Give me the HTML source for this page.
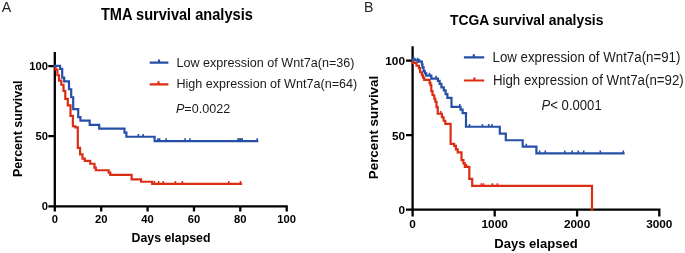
<!DOCTYPE html>
<html><head><meta charset="utf-8"><title>Survival analysis</title>
<style>
html,body{margin:0;padding:0;background:#fff;}
body{width:685px;height:253px;overflow:hidden;font-family:"Liberation Sans",sans-serif;}
svg{display:block;will-change:transform;}
</style></head><body>
<svg width="685" height="253" viewBox="0 0 685 253"><g stroke="#000" stroke-width="2.3" fill="none" stroke-linecap="butt"><path d="M54.8,52 V211.5 M48.3,66.1 H54.8 M48.3,136.2 H54.8 M48.3,206.3 H287.8 M101.2,206.3 V211.5 M147.6,206.3 V211.5 M194,206.3 V211.5 M240.3,206.3 V211.5 M286.7,206.3 V211.5"/><path d="M412.6,46.2 V216.5 M406,60.6 H412.6 M406,135.1 H412.6 M406,209.6 H660.5 M494.7,209.6 V216.5 M577.1,209.6 V216.5 M659.3,209.6 V216.5"/></g><path d="M54.8,66.1 H55.6 V69.5 H57.4 V75.25 H59.0 V80.65 H61.3 V84.75 H63.5 V90.95 H65.3 V98.95 H67.8 V105.45 H70.5 V115.95 H72.9 V126.25 H75.3 V127.45 H77.8 V147.95 H80.1 V154.45 H82.5 V158.55 H84.8 V160.95 H90.2 V163.75 H94.5 V167.55 H95.8 V170.25 H108.7 V172.55 H110.3 V174.95 H131.6 V179.35 H141.1 V181.75 H152.2 V183.85 H241" stroke="#db2c14" stroke-width="2.2" fill="none" stroke-linejoin="miter" stroke-linecap="square"/><path d="M154.4,183.85 V181.05 M158.7,183.85 V181.05 M163.2,183.85 V181.05 M175.4,183.85 V181.05 M182.4,183.85 V181.05 M228.8,183.85 V181.05 M240.5,183.85 V181.05 " stroke="#db2c14" stroke-width="1.6" fill="none"/><path d="M54.8,65.9 H60.1 V68.9 H62.2 V77.65 H64.2 V81.45 H69 V89.25 H71.2 V97.25 H73.2 V109.15 H78.2 V117.15 H80.4 V120.65 H89.7 V124.95 H99.2 V128.65 H124.5 V132.55 H126.4 V136.75 H154.6 V141.05 H257.2" stroke="#2650a8" stroke-width="2.2" fill="none" stroke-linejoin="miter" stroke-linecap="square"/><path d="M138.4,136.75 V133.95 M143.2,136.75 V133.95 M157.9,141.05 V138.25 M159.6,141.05 V138.25 M166.1,141.05 V138.25 M185,141.05 V138.25 M190,141.05 V138.25 M238.0,141.05 V138.25 M239.4,141.05 V138.25 M240.8,141.05 V138.25 M242.2,141.05 V138.25 M257.2,141.05 V138.25 " stroke="#2650a8" stroke-width="1.6" fill="none"/><path d="M412.6,60 H413 V62.9 H416.5 V65.75 H418.9 V68.05 H420.1 V72.25 H421.9 V75.25 H423 V77.55 H424.2 V79.95 H429.6 V82.95 H430.4 V85.15 H431.3 V91.05 H432.5 V95.25 H434.3 V98.75 H435.3 V101.75 H436.5 V107.15 H437.7 V113.75 H441.9 V117.25 H443.6 V120.75 H445.3 V123.95 H450.6 V143.95 H454.2 V145.95 H455.9 V149.35 H457.7 V152.45 H461.5 V160.05 H463.4 V163.45 H464.8 V166.85 H469.3 V178.85 H472.2 V185.95 H592 V209.6" stroke="#db2c14" stroke-width="2.2" fill="none" stroke-linejoin="miter" stroke-linecap="square"/><path d="M440.7,113.75 V110.95 M466.5,166.85 V164.05 M481.4,185.95 V183.15 M483.5,185.95 V183.15 M492.4,185.95 V183.15 M497.4,185.95 V183.15 " stroke="#db2c14" stroke-width="1.6" fill="none"/><path d="M412.6,59.3 H415.3 V60.5 H418 V61.7 H421.9 V64.45 H422.5 V67.45 H423.6 V71.05 H424.8 V73.45 H426.2 V75.65 H431.3 V78.65 H437.9 V80.95 H439.6 V83.95 H441.4 V87.45 H443.8 V90.45 H445.6 V94.05 H447.4 V97.85 H451.5 V106.85 H460.5 V109.55 H462.6 V113.05 H466 V126.75 H499.8 V133.65 H505.8 V140.25 H522.7 V146.55 H536.4 V153.35 H623.5" stroke="#2650a8" stroke-width="2.2" fill="none" stroke-linejoin="miter" stroke-linecap="square"/><path d="M413.6,59.3 V56.5 M417.7,60.5 V57.7 M419.5,61.7 V58.9 M429.6,75.65 V72.85 M436.1,78.65 V75.85 M459.8,106.85 V104.05 M469.5,126.75 V123.95 M482.4,126.75 V123.95 M488.7,126.75 V123.95 M491.9,126.75 V123.95 M526.3,146.55 V143.75 M539.6,153.35 V150.55 M545.3,153.35 V150.55 M564.8,153.35 V150.55 M572.2,153.35 V150.55 M578.2,153.35 V150.55 M583.7,153.35 V150.55 M600.3,153.35 V150.55 M623.3,153.35 V150.55 " stroke="#2650a8" stroke-width="1.6" fill="none"/><path d="M149.7,62.6 H168.4 M159,62.6 V59.4" stroke="#2650a8" stroke-width="2.2" fill="none"/><path d="M149.7,84.4 H168.4 M158.5,84.4 V81.3" stroke="#db2c14" stroke-width="2.2" fill="none"/><path d="M463.9,57.4 H484.2 M473.8,57.4 V54.3" stroke="#2650a8" stroke-width="2.2" fill="none"/><path d="M463.9,80.5 H484.2 M474.4,80.5 V77.4" stroke="#db2c14" stroke-width="2.2" fill="none"/><text x="1.8" y="11.9" font-size="14.2" font-weight="normal" text-anchor="start" fill="#231f20" font-family="Liberation Sans, sans-serif" >A</text><text x="364.0" y="11.9" font-size="14.2" font-weight="normal" text-anchor="start" fill="#231f20" font-family="Liberation Sans, sans-serif" >B</text><text transform="translate(100.9,19.7) scale(1,1.07)" x="0" y="0" font-size="14.6" font-weight="bold" text-anchor="start" fill="#000" font-family="Liberation Sans, sans-serif" >TMA survival analysis</text><text transform="translate(450.0,24.8) scale(1,1.06)" x="0" y="0" font-size="13.85" font-weight="bold" text-anchor="start" fill="#000" font-family="Liberation Sans, sans-serif" >TCGA survival analysis</text><text x="48.0" y="69.9" font-size="11.2" font-weight="bold" text-anchor="end" fill="#000" font-family="Liberation Sans, sans-serif" >100</text><text x="48.0" y="140.0" font-size="11.2" font-weight="bold" text-anchor="end" fill="#000" font-family="Liberation Sans, sans-serif" >50</text><text x="48.0" y="210.2" font-size="11.2" font-weight="bold" text-anchor="end" fill="#000" font-family="Liberation Sans, sans-serif" >0</text><text x="54.8" y="223.4" font-size="11.2" font-weight="bold" text-anchor="middle" fill="#000" font-family="Liberation Sans, sans-serif" >0</text><text x="101.2" y="223.4" font-size="11.2" font-weight="bold" text-anchor="middle" fill="#000" font-family="Liberation Sans, sans-serif" >20</text><text x="147.6" y="223.4" font-size="11.2" font-weight="bold" text-anchor="middle" fill="#000" font-family="Liberation Sans, sans-serif" >40</text><text x="194" y="223.4" font-size="11.2" font-weight="bold" text-anchor="middle" fill="#000" font-family="Liberation Sans, sans-serif" >60</text><text x="240.3" y="223.4" font-size="11.2" font-weight="bold" text-anchor="middle" fill="#000" font-family="Liberation Sans, sans-serif" >80</text><text x="286.7" y="223.4" font-size="11.2" font-weight="bold" text-anchor="middle" fill="#000" font-family="Liberation Sans, sans-serif" >100</text><text x="405.0" y="64.8" font-size="11.8" font-weight="bold" text-anchor="end" fill="#000" font-family="Liberation Sans, sans-serif" >100</text><text x="405.0" y="139.5" font-size="11.8" font-weight="bold" text-anchor="end" fill="#000" font-family="Liberation Sans, sans-serif" >50</text><text x="405.0" y="214.2" font-size="11.8" font-weight="bold" text-anchor="end" fill="#000" font-family="Liberation Sans, sans-serif" >0</text><text x="412.5" y="228.0" font-size="11.8" font-weight="bold" text-anchor="middle" fill="#000" font-family="Liberation Sans, sans-serif" >0</text><text x="494.7" y="228.0" font-size="11.8" font-weight="bold" text-anchor="middle" fill="#000" font-family="Liberation Sans, sans-serif" >1000</text><text x="577.1" y="228.0" font-size="11.8" font-weight="bold" text-anchor="middle" fill="#000" font-family="Liberation Sans, sans-serif" >2000</text><text x="659.3" y="228.0" font-size="11.8" font-weight="bold" text-anchor="middle" fill="#000" font-family="Liberation Sans, sans-serif" >3000</text><text x="171.0" y="241.8" font-size="12.35" font-weight="bold" text-anchor="middle" fill="#000" font-family="Liberation Sans, sans-serif" >Days elapsed</text><text x="536.0" y="247.6" font-size="13.05" font-weight="bold" text-anchor="middle" fill="#000" font-family="Liberation Sans, sans-serif" >Days elapsed</text><text transform="translate(21.6,128.7) rotate(-90)" x="0" y="0" font-size="12.5" font-weight="bold" text-anchor="middle" fill="#000" font-family="Liberation Sans, sans-serif">Percent survival</text><text transform="translate(377.8,127.5) rotate(-90)" x="0" y="0" font-size="13.4" font-weight="bold" text-anchor="middle" fill="#000" font-family="Liberation Sans, sans-serif">Percent survival</text><text transform="translate(176.4,66.9) scale(1,1.07)" x="0" y="0" font-size="12.6" font-weight="normal" text-anchor="start" fill="#1a1a1a" font-family="Liberation Sans, sans-serif" >Low expression of Wnt7a(n=36)</text><text transform="translate(176.4,88.1) scale(1,1.07)" x="0" y="0" font-size="12.6" font-weight="normal" text-anchor="start" fill="#1a1a1a" font-family="Liberation Sans, sans-serif" >High expression of Wnt7a(n=64)</text><text transform="translate(175.9,112.5) scale(1,1.08)" x="0" y="0" font-size="12.6" font-weight="normal" text-anchor="start" fill="#1a1a1a" font-family="Liberation Sans, sans-serif" ><tspan font-style="italic">P</tspan>=0.0022</text><text transform="translate(492.5,61.7) scale(1,1.06)" x="0" y="0" font-size="13.3" font-weight="normal" text-anchor="start" fill="#1a1a1a" font-family="Liberation Sans, sans-serif" >Low expression of Wnt7a(n=91)</text><text transform="translate(492.9,84.6) scale(1,1.06)" x="0" y="0" font-size="13.3" font-weight="normal" text-anchor="start" fill="#1a1a1a" font-family="Liberation Sans, sans-serif" >High expression of Wnt7a(n=92)</text><text transform="translate(541.6,110.2) scale(1,1.08)" x="0" y="0" font-size="13.1" font-weight="normal" text-anchor="start" fill="#1a1a1a" font-family="Liberation Sans, sans-serif" ><tspan font-style="italic">P</tspan>&lt; 0.0001</text></svg>
</body></html>
